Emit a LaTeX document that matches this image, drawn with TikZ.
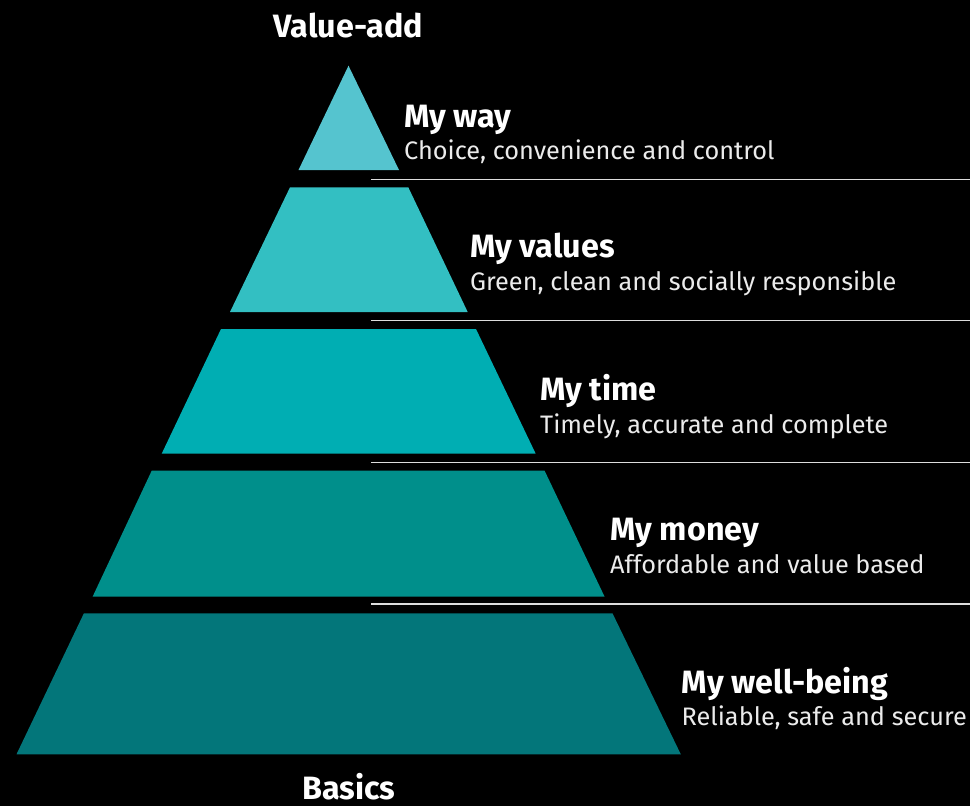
\documentclass[tikz,border=0pt]{standalone}
\usepackage{fontspec}
\setmainfont{Fira Sans}
\definecolor{bandA}{HTML}{55C4CF}
\definecolor{bandB}{HTML}{33BFC2}
\definecolor{bandC}{HTML}{00AEB3}
\definecolor{bandD}{HTML}{008F8B}
\definecolor{bandE}{HTML}{03767A}
\definecolor{rulecol}{HTML}{DDDDDD}
\tikzset{
  heading/.style={anchor=base west, inner sep=0pt, text=white, font=\fontsize{32.3}{36}\selectfont\bfseries},
  subline/.style={anchor=base west, inner sep=0pt, text=white!92!black, font=\fontsize{25.3}{29}\selectfont},
  endlabel/.style={anchor=base, inner sep=0pt, text=white, font=\fontsize{32.3}{36}\selectfont\bfseries},
  sep/.style={draw=rulecol, line width=1.3pt},
}
\begin{document}
\begin{tikzpicture}[x=1pt,y=-1pt]
\fill[black] (0,0) rectangle (970,806);
\useasboundingbox (0,0) rectangle (970,806);
% pyramid bands
\fill[bandA] (348.5,65.7) -- (298.5,170) -- (399,170) -- cycle;
\fill[bandB] (290,187.3) -- (408.3,187.3) -- (467.7,312) -- (230,312) -- cycle;
\fill[bandC] (221,329) -- (476,329) -- (535.7,453.7) -- (161.7,453.7) -- cycle;
\fill[bandD] (151.7,470.7) -- (544.6,470.7) -- (604.6,596.7) -- (92.6,596.7) -- cycle;
\fill[bandE] (83.9,613.3) -- (612.5,613.3) -- (680.8,754.3) -- (16.5,754.3) -- cycle;
% separator rules
\coordinate (s1a) at (371,179.3); \coordinate (s1b) at (970,179.3);
\coordinate (s2a) at (371,320.7); \coordinate (s2b) at (970,320.7);
\coordinate (s3a) at (371,462.3); \coordinate (s3b) at (970,462.3);
\coordinate (s4a) at (371,604);   \coordinate (s4b) at (970,604);
\draw[sep] (s1a) -- (s1b);
\draw[sep] (s2a) -- (s2b);
\draw[sep] (s3a) -- (s3b);
\draw[sep] (s4a) -- (s4b);
% end labels
\node[endlabel] (top) at (348.5,37.7) {Value-add};
\node[endlabel] (bottom) at (348.7,799) {Basics};
% band labels
\node[heading] (h1) at (404,127.7) {My way};
\node[subline] (d1) at (404,159.3) {Choice, convenience and control};
\node[heading] (h2) at (470,257.3) {My values};
\node[subline] (d2) at (470,290) {Green, clean and socially responsible};
\node[heading] (h3) at (540,400.3) {My time};
\node[subline] (d3) at (540,433) {Timely, accurate and complete};
\node[heading] (h4) at (610,540.3) {My money};
\node[subline] (d4) at (610,573) {Affordable and value based};
\node[heading] (h5) at (681.5,693.3) {My well-being};
\node[subline] (d5) at (681.5,725) {Reliable, safe and secure};
\end{tikzpicture}
\end{document}
